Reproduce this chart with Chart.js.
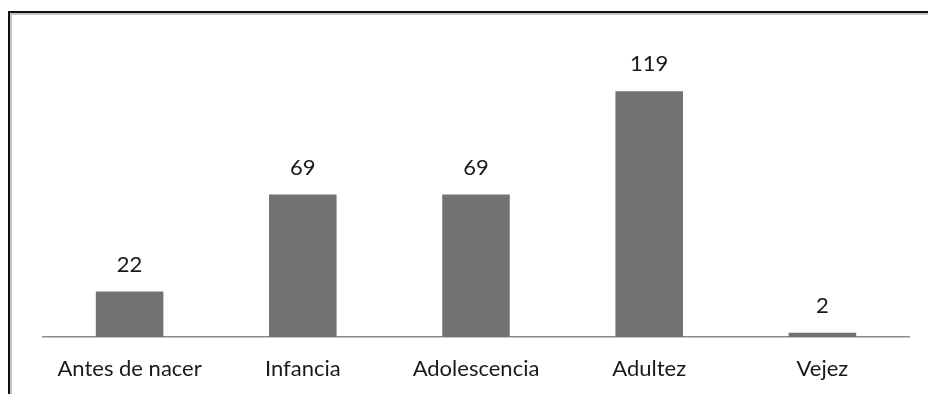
<!DOCTYPE html>
<html>
<head>
<meta charset="utf-8">
<script src="https://cdn.jsdelivr.net/npm/chart.js@4/dist/chart.umd.min.js"></script>
<style>
  html, body { margin: 0; padding: 0; background: #fff; }
  #wrap { position: relative; width: 928px; height: 394px; overflow: hidden; }
  #frame {
    position: absolute; left: 8px; top: 11px; width: 940px; height: 400px;
    border-left: 2px solid #111; border-top: 2px solid #111;
    box-shadow: inset 2px 2px 0 #c4c4c4;
  }
  canvas { position: absolute; left: 0; top: 0; }
</style>
</head>
<body>
<div id="wrap">
  <div id="frame"></div>
  <canvas id="chart" width="928" height="394"></canvas>
</div>
<script>
var categories = ['Antes de nacer', 'Infancia', 'Adolescencia', 'Adultez', 'Vejez'];
var values = [22, 69, 69, 119, 2];

var fontFamily = 'Lato, "Open Sans", sans-serif';

// labels above the bars
var valueLabels = {
  id: 'valueLabels',
  afterDatasetsDraw: function(chart) {
    var ctx = chart.ctx;
    var meta = chart.getDatasetMeta(0);
    ctx.save();
    ctx.font = '22px ' + fontFamily;
    ctx.fillStyle = '#1a1a1a';
    ctx.textAlign = 'center';
    ctx.textBaseline = 'middle';
    meta.data.forEach(function(bar, i) {
      ctx.fillText(values[i], bar.x, bar.y - 27);
    });
    ctx.restore();
  }
};

var ctx = document.getElementById('chart').getContext('2d');
var myChart = new Chart(ctx, {
  type: 'bar',
  data: {
    labels: categories,
    datasets: [{
      data: values,
      backgroundColor: '#727272',
      borderWidth: 0,
      categoryPercentage: 1,
      barPercentage: 0.39
    }]
  },
  options: {
    responsive: false,
    animation: false,
    layout: { padding: { left: 43, right: 19, top: 48, bottom: 0 } },
    plugins: {
      legend: { display: false },
      tooltip: { enabled: false }
    },
    scales: {
      x: {
        grid: { display: false, drawTicks: false },
        border: { display: true, color: '#8a8a8a', width: 1.5 },
        ticks: {
          color: '#1a1a1a',
          padding: 19,
          maxRotation: 0,
          autoSkip: false,
          font: { family: fontFamily, size: 22 }
        },
        afterFit: function(scale) {
          scale.height = 57;
        }
      },
      y: {
        display: false,
        min: 0,
        max: 140
      }
    }
  },
  plugins: [valueLabels]
});
</script>
</body>
</html>
